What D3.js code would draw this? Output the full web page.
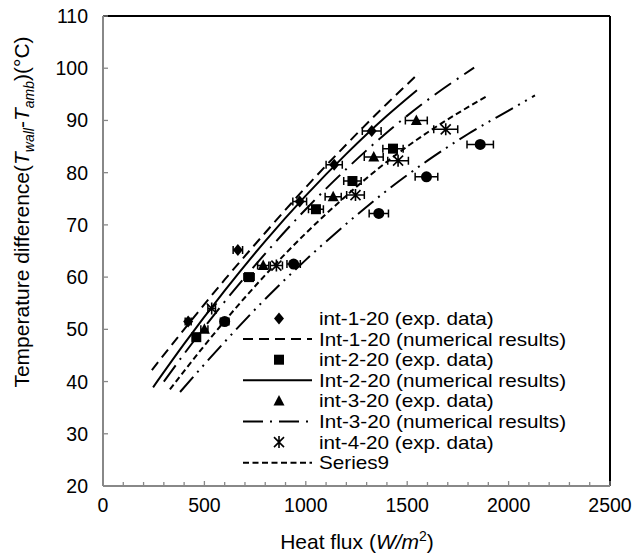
<!DOCTYPE html>
<html>
<head>
<meta charset="utf-8">
<title>Heat flux vs temperature difference</title>
<script src="https://d3js.org/d3.v7.min.js"></script>
<style>
  body { margin: 0; background: #fff; }
  text { font-family: "Liberation Sans", Arial, sans-serif; fill: #000; }
</style>
</head>
<body>
<script>
// experimental points (heat flux W/m2, temperature difference)
const exp1Q = [420, 665, 970, 1140, 1325],  exp1T = [51.5, 65.2, 74.5, 81.5, 88.0];
const exp2Q = [460, 720, 1050, 1230, 1430], exp2T = [48.5, 60.0, 73.0, 78.4, 84.6];
const exp3Q = [500, 790, 1135, 1335, 1545], exp3T = [50.0, 62.2, 75.4, 83.0, 90.0];
const exp4Q = [536, 855, 1245, 1455, 1690], exp4T = [54.0, 62.2, 75.7, 82.3, 88.3];
const exp5Q = [600, 940, 1360, 1595, 1860], exp5T = [51.5, 62.5, 72.2, 79.2, 85.4];
const errFrac = 0.035; // horizontal error bars

// numerical curves
const num1Q = [241, 400, 600, 800, 1000, 1200, 1400, 1559];
const num1T = [42.2, 50.0, 59.5, 68.5, 77.2, 85.4, 93.2, 99.1];
const num2Q = [247, 400, 600, 800, 1000, 1200, 1400, 1548];
const num2T = [38.9, 47.2, 57.4, 66.9, 75.6, 83.6, 90.9, 95.8];
const num3Q = [300, 400, 600, 800, 1000, 1200, 1400, 1600, 1830];
const num3T = [40.0, 45.3, 55.3, 64.5, 73.0, 80.7, 87.7, 93.9, 100.1];
const s9Q = [330, 400, 600, 800, 1000, 1200, 1400, 1600, 1900];
const s9T = [38.5, 42.0, 51.6, 60.4, 68.4, 75.6, 82.1, 87.7, 94.8];
const s10Q = [380, 600, 800, 1000, 1200, 1400, 1600, 1800, 2000, 2130];
const s10T = [38.0, 47.6, 55.8, 63.3, 70.2, 76.6, 82.3, 87.4, 91.9, 94.8];

const xTicks = [0, 500, 1000, 1500, 2000, 2500];
const yTicks = [20, 30, 40, 50, 60, 70, 80, 90, 100, 110];
const legendLabels = ["int-1-20 (exp. data)", "Int-1-20 (numerical results)", "int-2-20 (exp. data)",
  "Int-2-20 (numerical results)", "int-3-20 (exp. data)", "Int-3-20 (numerical results)",
  "int-4-20 (exp. data)", "Series9"];

const W = 637, H = 557;
const svg = d3.select("body").append("svg").attr("width", W).attr("height", H);

const x = d3.scaleLinear().domain([0, 2500]).range([103, 610]);
const y = d3.scaleLinear().domain([20, 110]).range([486, 16]);

// frame
svg.append("line").attr("x1", x(0)).attr("x2", x(2500)).attr("y1", y(110)).attr("y2", y(110))
  .attr("stroke", "#000").attr("stroke-width", 2);
svg.append("line").attr("x1", x(2500)).attr("x2", x(2500)).attr("y1", y(110)).attr("y2", y(20))
  .attr("stroke", "#000").attr("stroke-width", 2);

// axes
const xMinor = d3.range(0, 2501, 100);
svg.append("g").selectAll("line").data(xMinor).join("line")
  .attr("x1", d => x(d)).attr("x2", d => x(d))
  .attr("y1", y(20)).attr("y2", d => d % 500 === 0 ? y(20) - 5 : y(20) - 4)
  .attr("stroke", "#888").attr("stroke-width", 1.3);
svg.append("g").selectAll("line").data(yTicks).join("line")
  .attr("x1", x(0)).attr("x2", x(0) + 5)
  .attr("y1", d => y(d)).attr("y2", d => y(d))
  .attr("stroke", "#888").attr("stroke-width", 1.3);
svg.append("line").attr("x1", x(0)).attr("x2", x(2500)).attr("y1", y(20)).attr("y2", y(20))
  .attr("stroke", "#888").attr("stroke-width", 2);
svg.append("line").attr("x1", x(0)).attr("x2", x(0)).attr("y1", y(110)).attr("y2", y(20))
  .attr("stroke", "#888").attr("stroke-width", 2);

svg.append("g").selectAll("text").data(xTicks).join("text")
  .attr("x", d => x(d)).attr("y", 512).attr("text-anchor", "middle")
  .attr("font-size", 19.5).text(d => d);
svg.append("g").selectAll("text").data(yTicks).join("text")
  .attr("x", 88).attr("y", d => y(d) + 7).attr("text-anchor", "end")
  .attr("font-size", 19.5).text(d => d);

// axis titles
const xt = svg.append("text").attr("x", 357).attr("y", 549).attr("text-anchor", "middle").attr("font-size", 21);
xt.append("tspan").text("Heat flux (");
xt.append("tspan").attr("font-style", "italic").text("W/m");
xt.append("tspan").attr("font-size", 14).attr("dy", -8).text("2");
xt.append("tspan").attr("dy", 8).text(")");

const yt = svg.append("text").attr("transform", "translate(29," + 212 + ") rotate(-90)")
  .attr("text-anchor", "middle").attr("font-size", 21);
yt.append("tspan").text("Temperature difference(");
yt.append("tspan").attr("font-style", "italic").text("T");
yt.append("tspan").attr("font-style", "italic").attr("font-size", 14).attr("dy", 5).text("wall");
yt.append("tspan").attr("dy", -5).text("-");
yt.append("tspan").attr("font-style", "italic").text("T");
yt.append("tspan").attr("font-style", "italic").attr("font-size", 14).attr("dy", 5).text("amb");
yt.append("tspan").attr("dy", -5).text(")(°C)");

// curves
const curves = [
  {q: num1Q, t: num1T, dash: "10,6"},
  {q: num2Q, t: num2T, dash: null},
  {q: num3Q, t: num3T, dash: "20,7,2,7"},
  {q: s9Q, t: s9T, dash: "6,3.5"},
  {q: s10Q, t: s10T, dash: "20,6,2,6,2,6"}
];
const line = d3.line().x(d => x(d[0])).y(d => y(d[1])).curve(d3.curveMonotoneX);
curves.forEach(c => {
  svg.append("path").datum(d3.zip(c.q, c.t)).attr("d", line)
    .attr("fill", "none").attr("stroke", "#000").attr("stroke-width", 2)
    .attr("stroke-dasharray", c.dash);
});

// markers
function marker(g, kind) {
  if (kind === "asterisk") {
    g.append("path").attr("d", "M0,-6V6M-5,-5L5,5M-5,5L5,-5")
      .attr("stroke", "#000").attr("stroke-width", 1.6).attr("fill", "none");
  } else if (kind === "diamond") {
    g.append("path").attr("d", "M0,-6L5,0L0,6L-5,0Z").attr("fill", "#000");
  } else if (kind === "square") {
    g.append("rect").attr("x", -5).attr("y", -5).attr("width", 10).attr("height", 10).attr("fill", "#000");
  } else if (kind === "triangle") {
    g.append("path").attr("d", "M0,-6L5.5,4.5L-5.5,4.5Z").attr("fill", "#000");
  } else {
    g.append("circle").attr("r", 5.5).attr("fill", "#000");
  }
}

const sets = [
  {q: exp1Q, t: exp1T, kind: "diamond"},
  {q: exp2Q, t: exp2T, kind: "square"},
  {q: exp3Q, t: exp3T, kind: "triangle"},
  {q: exp4Q, t: exp4T, kind: "asterisk"},
  {q: exp5Q, t: exp5T, kind: "circle"}
];
sets.forEach(s => {
  d3.zip(s.q, s.t).forEach(([q, t]) => {
    const g = svg.append("g");
    const x0 = x(q * (1 - errFrac)), x1 = x(q * (1 + errFrac)), yy = y(t);
    g.append("path")
      .attr("d", `M${x0},${yy}H${x1}M${x0},${yy - 4}V${yy + 4}M${x1},${yy - 4}V${yy + 4}`)
      .attr("stroke", "#000").attr("stroke-width", 1.5).attr("fill", "none");
    marker(g.append("g").attr("transform", `translate(${x(q)},${yy})`), s.kind);
  });
});

// legend (text slightly widened, as in the original export)
const legendKinds = ["diamond", "10,6", "square", "solid", "triangle", "20,7,2,7", "asterisk", "6,3.5"];
const lg = svg.append("g");
legendLabels.forEach((lab, i) => {
  const ly = 318.5 + 20.6 * i;
  const k = legendKinds[i];
  if (["diamond", "square", "triangle", "asterisk"].includes(k)) {
    marker(lg.append("g").attr("transform", `translate(279,${ly})`), k);
  } else {
    lg.append("line").attr("x1", 243).attr("x2", 312).attr("y1", ly).attr("y2", ly)
      .attr("stroke", "#000").attr("stroke-width", 2)
      .attr("stroke-dasharray", k === "solid" ? null : k);
  }
  lg.append("text").attr("transform", `translate(319,${ly + 6.5}) scale(1.15,1)`)
    .attr("font-size", 18).text(lab);
});
</script>
</body>
</html>
